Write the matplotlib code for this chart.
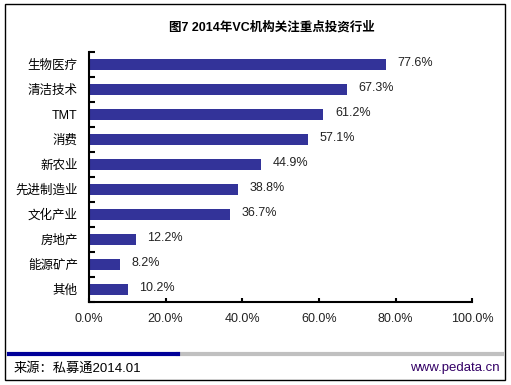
import matplotlib.pyplot as plt
from matplotlib.lines import Line2D
from matplotlib.patches import Rectangle
import numpy as np

plt.rcParams['font.family'] = ['Liberation Sans', 'Noto Sans CJK SC']

# data
categories = ['生物医疗', '清洁技术', 'TMT', '消费', '新农业', '先进制造业', '文化产业', '房地产', '能源矿产', '其他']
values = [77.6, 67.3, 61.2, 57.1, 44.9, 38.8, 36.7, 12.2, 8.2, 10.2]
xticks = [0, 20, 40, 60, 80, 100]
title = '图7 2014年VC机构关注重点投资行业'

fig = plt.figure(figsize=(5.11, 3.85), dpi=100)
ax = fig.add_axes([0.174, 0.216, 0.750, 0.649])

y = np.arange(len(categories))
ax.barh(y, values, height=0.42, color='#333399')
for yi, v in zip(y, values):
    ax.text(v + 3, yi - 0.05, f'{v:.1f}%', va='center', ha='left', fontsize=9, color='#222222')

ax.set_ylim(len(categories) - 0.5, -0.5)
ax.set_xlim(0, 100)
ax.set_yticks(np.arange(len(categories) + 1) - 0.5, minor=False)
ax.set_yticklabels([])
ax.set_yticks(y, minor=True)
ax.set_yticklabels(categories, minor=True, fontsize=9)
ax.tick_params(axis='y', which='minor', length=0, pad=8)
ax.tick_params(axis='y', which='major', direction='in', length=4, width=1.5)
ax.set_xticks(xticks)
ax.set_xticklabels([f'{t:.1f}%' for t in xticks], fontsize=9, color='#222222')
ax.tick_params(axis='x', direction='in', length=3, width=1.5, pad=8)
for s in ['top', 'right']:
    ax.spines[s].set_visible(False)
ax.spines['left'].set_linewidth(1.5)
ax.spines['bottom'].set_linewidth(1.5)

fig.text(272 / 511, 0.93, title, ha='center', va='center', fontsize=9, fontweight='bold')

# frame and footer
fig.add_artist(Rectangle((5 / 511, 5 / 385), 500 / 511, 376 / 385, transform=fig.transFigure,
                         fill=False, edgecolor='black', linewidth=1))
yl = 1 - 354 / 385
fig.add_artist(Line2D([178 / 511, 502 / 511], [yl, yl], color='#c0c0c0', linewidth=3))
fig.add_artist(Line2D([9 / 511, 178 / 511], [yl, yl], color='#000099', linewidth=3))
fig.text(14 / 511, 1 - 368 / 385, '来源：私募通2014.01', ha='left', va='center', fontsize=9.5)
fig.text(500 / 511, 1 - 368 / 385, 'www.pedata.cn', ha='right', va='center', fontsize=9.5, color='#330066')

fig.savefig('out.png', dpi=100)
